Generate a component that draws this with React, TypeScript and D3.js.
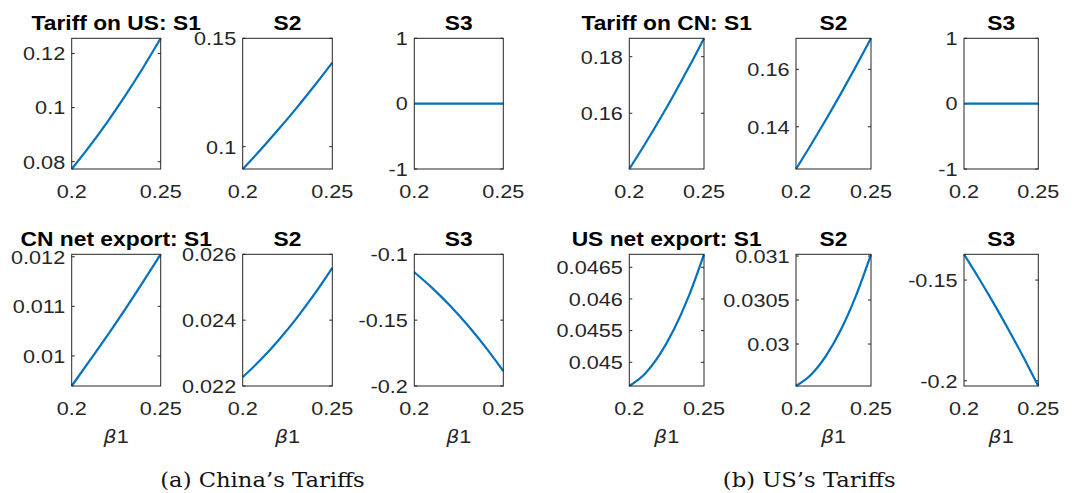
import * as d3 from 'd3'

// beta1 grid (x axis of every panel)
const beta = [0.2, 0.21, 0.22, 0.23, 0.24, 0.25]

// (a) China's tariffs
const tariffOnUS_S1 = [0.0773, 0.08565, 0.09465, 0.10431, 0.11463, 0.1256]
const tariffOnUS_S2 = [0.0897, 0.0986, 0.108, 0.1178, 0.1281, 0.1388]
const tariffOnUS_S3 = [0, 0, 0, 0, 0, 0]
const cnNetExport_S1 = [0.009394, 0.0099, 0.01041, 0.01094, 0.01149, 0.01205]
const cnNetExport_S2 = [0.02227, 0.022796, 0.023392, 0.024056, 0.024788, 0.02559]
const cnNetExport_S3 = [-0.1136, -0.12546, -0.1389, -0.1539, -0.17046, -0.1886]

// (b) US's tariffs
const tariffOnCN_S1 = [0.1403, 0.14869, 0.15751, 0.16675, 0.17641, 0.1865]
const tariffOnCN_S2 = [0.1253, 0.13376, 0.14254, 0.15164, 0.16106, 0.1708]
const tariffOnCN_S3 = [0, 0, 0, 0, 0, 0]
const usNetExport_S1 = [0.044626, 0.044808, 0.045108, 0.045524, 0.046056, 0.046705]
const usNetExport_S2 = [0.029523, 0.029651, 0.029865, 0.030164, 0.03055, 0.03102]
const usNetExport_S3 = [-0.1372, -0.14908, -0.16156, -0.17464, -0.18832, -0.2026]

// axis limits and y ticks
const yDomains = [
  [0.0773, 0.1256], [0.0897, 0.15], [-1, 1],
  [0.009394, 0.01205], [0.022, 0.026], [-0.2, -0.1],
  [0.1403, 0.1865], [0.1253, 0.1708], [-1, 1],
  [0.044626, 0.046705], [0.029523, 0.03102], [-0.2026, -0.1372],
]
const yTicks = [
  [0.08, 0.1, 0.12], [0.1, 0.15], [-1, 0, 1],
  [0.01, 0.011, 0.012], [0.022, 0.024, 0.026], [-0.2, -0.15, -0.1],
  [0.16, 0.18], [0.14, 0.16], [-1, 0, 1],
  [0.045, 0.0455, 0.046, 0.0465], [0.03, 0.0305, 0.031], [-0.2, -0.15],
]
const titles = [
  'Tariff on US: S1', 'S2', 'S3',
  'CN net export: S1', 'S2', 'S3',
  'Tariff on CN: S1', 'S2', 'S3',
  'US net export: S1', 'S2', 'S3',
]
const series = [
  tariffOnUS_S1, tariffOnUS_S2, tariffOnUS_S3,
  cnNetExport_S1, cnNetExport_S2, cnNetExport_S3,
  tariffOnCN_S1, tariffOnCN_S2, tariffOnCN_S3,
  usNetExport_S1, usNetExport_S2, usNetExport_S3,
]
const xTicks = [0.2, 0.25]
const captions = ["(a) China\u2019s Tariffs", "(b) US\u2019s Tariffs"]

// layout (pixels)
const groupCols = [
  [[71.7, 160.7], [242.7, 332.3], [414.3, 503.3]],
  [[629.3, 704], [796, 871], [964, 1038.3]],
]
const rows = [[38.3, 169], [254.3, 386]]
const captionX = [262.5, 809.2]
const SX = 1.14
const SANS = 'Liberation Sans, Arial, sans-serif'
const GRAY = '#262626'
const BLUE = '#0072BD'

const fmt = (v: number) => String(+v.toPrecision(6))

const SText = ({ x, y, anchor = 'middle', size = 19, weight = 'normal', family = SANS, fill = GRAY, sx = SX, dy, children }: any) => (
  <text
    transform={`translate(${x},${y}) scale(${sx},1)`}
    textAnchor={anchor}
    fontSize={size}
    fontWeight={weight}
    fontFamily={family}
    fill={fill}
    dy={dy}
  >
    {children}
  </text>
)

const Panel = ({ idx }: { idx: number }) => {
  const g = Math.floor(idx / 6)
  const r = Math.floor((idx % 6) / 3)
  const c = idx % 3
  const [x0, x1] = groupCols[g][c]
  const [y0, y1] = rows[r]
  const x = d3.scaleLinear().domain([0.2, 0.25]).range([x0, x1])
  const y = d3.scaleLinear().domain(yDomains[idx]).range([y1, y0])
  const line = d3
    .line<number>()
    .x((_, i) => x(beta[i]))
    .y((d) => y(d))
    .curve(d3.curveMonotoneX)
  const tl = 3
  return (
    <g>
      {yTicks[idx].map((t) => (
        <g key={t}>
          <line x1={x0} x2={x0 + tl} y1={y(t)} y2={y(t)} stroke={GRAY} strokeWidth={1} />
          <line x1={x1} x2={x1 - tl} y1={y(t)} y2={y(t)} stroke={GRAY} strokeWidth={1} />
          <SText x={x0 - 6.5} y={y(t)} anchor="end" dy="0.36em">
            {fmt(t)}
          </SText>
        </g>
      ))}
      <path d={line(series[idx]) ?? ''} fill="none" stroke={BLUE} strokeWidth={2.2} />
      <rect x={x0} y={y0} width={x1 - x0} height={y1 - y0} fill="none" stroke={GRAY} strokeWidth={1} />
      {xTicks.map((t) => (
        <SText key={t} x={x(t)} y={y1 + 29}>
          {fmt(t)}
        </SText>
      ))}
      <SText x={(x0 + x1) / 2} y={y0 - 8.8} size={20} weight="bold" fill="#000">
        {titles[idx]}
      </SText>
      {r === 1 && (
        <SText x={(x0 + x1) / 2} y={y1 + 57.3}>
          <tspan fontStyle="italic" fontFamily="DejaVu Sans, sans-serif" fontSize={18}>β</tspan>
          <tspan>1</tspan>
        </SText>
      )}
    </g>
  )
}

export default function App() {
  return (
    <svg
      width={1076}
      height={493}
      style={{ position: 'absolute', left: 0, top: 0, background: '#fff' }}
    >
      <rect width={1076} height={493} fill="#fff" />
      {d3.range(12).map((i) => (
        <Panel key={i} idx={i} />
      ))}
      {captions.map((t, i) => (
        <SText key={t} x={captionX[i]} y={486.7} size={21.2} family="DejaVu Serif, serif" fill="#111" sx={1.07}>
          {t}
        </SText>
      ))}
    </svg>
  )
}
